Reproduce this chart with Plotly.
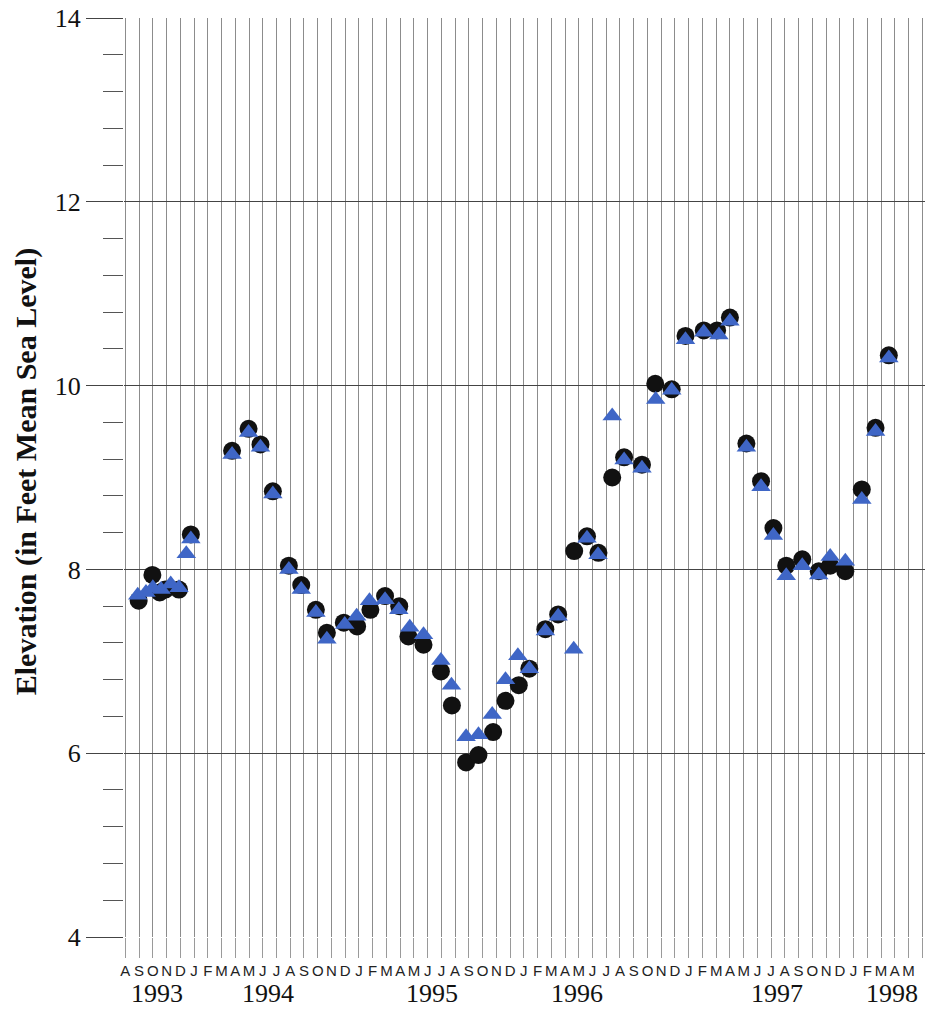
import datetime as dt
import plotly.graph_objects as go

# Sampling dates and water-surface elevations (ft MSL)
circle_dates = [
    "1993-08-30", "1993-09-30", "1993-10-16", "1993-10-28", "1993-11-28", "1993-12-24",
    "1994-03-24", "1994-04-30", "1994-05-26", "1994-06-23", "1994-07-28", "1994-08-25",
    "1994-09-27", "1994-10-21", "1994-11-28", "1994-12-27", "1995-01-26", "1995-02-28",
    "1995-03-29", "1995-04-19", "1995-05-22", "1995-06-30", "1995-07-24", "1995-08-25",
    "1995-09-22", "1995-10-24", "1995-11-21", "1995-12-20", "1996-01-13", "1996-02-18",
    "1996-03-16", "1996-04-21", "1996-05-19", "1996-06-14", "1996-07-14", "1996-08-10",
    "1996-09-19", "1996-10-18", "1996-11-24", "1996-12-24", "1997-02-04", "1997-03-03",
    "1997-04-01", "1997-05-07", "1997-06-09", "1997-07-06", "1997-08-04", "1997-09-09",
    "1997-10-15", "1997-11-10", "1997-12-13", "1998-01-19", "1998-02-19", "1998-03-18",
]
circle_elev = [
    7.66, 7.94, 7.75, 7.78, 7.78, 8.38,
    9.29, 9.53, 9.36, 8.85, 8.04, 7.83,
    7.56, 7.31, 7.42, 7.38, 7.56, 7.71,
    7.60, 7.27, 7.18, 6.89, 6.52, 5.90,
    5.98, 6.23, 6.57, 6.74, 6.92, 7.35,
    7.51, 8.20, 8.36, 8.18, 9.00, 9.22,
    9.14, 10.02, 9.96, 10.54, 10.60, 10.60,
    10.74, 9.37, 8.96, 8.45, 8.04, 8.11,
    7.98, 8.04, 7.98, 8.87, 9.54, 10.33,
]

triangle_dates = [
    "1993-08-28", "1993-09-16", "1993-10-01", "1993-10-19", "1993-11-10", "1993-11-28",
    "1993-12-14", "1993-12-24", "1994-03-24", "1994-04-30", "1994-05-26", "1994-06-23",
    "1994-07-28", "1994-08-25", "1994-09-27", "1994-10-21", "1994-11-30", "1994-12-26",
    "1995-01-24", "1995-02-28", "1995-03-28", "1995-04-22", "1995-05-22", "1995-06-30",
    "1995-07-23", "1995-08-25", "1995-09-22", "1995-10-22", "1995-11-21", "1995-12-18",
    "1996-01-13", "1996-02-18", "1996-03-16", "1996-04-20", "1996-05-19", "1996-06-13",
    "1996-07-14", "1996-08-10", "1996-09-19", "1996-10-19", "1996-11-24", "1996-12-24",
    "1997-02-04", "1997-03-07", "1997-04-01", "1997-05-07", "1997-06-09", "1997-07-06",
    "1997-08-04", "1997-09-09", "1997-10-15", "1997-11-10", "1997-12-13", "1998-01-19",
    "1998-02-19", "1998-03-18",
]
triangle_elev = [
    7.72, 7.75, 7.80, 7.78, 7.84, 7.80,
    8.17, 8.33, 9.25, 9.49, 9.33, 8.82,
    8.00, 7.78, 7.53, 7.24, 7.40, 7.49,
    7.66, 7.67, 7.56, 7.37, 7.29, 7.01,
    6.74, 6.18, 6.20, 6.42, 6.80, 7.06,
    6.92, 7.33, 7.49, 7.13, 8.34, 8.16,
    9.67, 9.19, 9.10, 9.85, 9.95, 10.50,
    10.58, 10.55, 10.70, 9.33, 8.90, 8.37,
    7.93, 8.04, 7.94, 8.14, 8.09, 8.76,
    9.50, 10.30,
]

month_letters = list("ASONDJFMAMJJASONDJFMAMJJASONDJFMAMJJASONDJFMAMJJASONDJFMAM")
year_labels = ["1993", "1994", "1995", "1996", "1997", "1998"]
year_label_pos = [2.3, 10.4, 22.3, 32.9, 47.4, 55.8]

START = (1993, 8)


def month_index(s):
    d = dt.date.fromisoformat(s)
    return (d.year - START[0]) * 12 + (d.month - START[1]) + (d.day - 1) / 30.0


cx = [month_index(s) for s in circle_dates]
tx = [month_index(s) for s in triangle_dates]

fig = go.Figure()
fig.add_trace(go.Scatter(
    x=cx, y=circle_elev, mode="markers",
    marker=dict(symbol="circle", size=18, color="#111111", line=dict(width=0)),
    showlegend=False, hoverinfo="skip",
))
fig.add_trace(go.Scatter(
    x=tx, y=triangle_elev, mode="markers",
    marker=dict(symbol="triangle-up", size=17, color="#3f66c6", line=dict(width=0)),
    showlegend=False, hoverinfo="skip",
))

for label, pos in zip(year_labels, year_label_pos):
    fig.add_annotation(
        x=pos, xref="x", y=-0.062, yref="paper", text=label, showarrow=False,
        xanchor="center", yanchor="middle",
        font=dict(family="Liberation Serif", size=26, color="#111111"),
    )

fig.add_annotation(
    x=-0.122, xref="paper", y=0.506, yref="paper",
    text="<b>Elevation (in Feet Mean Sea Level)</b>", textangle=-90,
    showarrow=False, xanchor="center", yanchor="middle",
    font=dict(family="Liberation Serif", size=30, color="#111111"),
)

fig.update_layout(
    width=927, height=1013,
    margin=dict(l=124, r=2, t=18, b=76),
    paper_bgcolor="white", plot_bgcolor="white",
    xaxis=dict(
        range=[-0.1, 58.2],
        tickmode="array",
        tickvals=list(range(len(month_letters))) + [len(month_letters)],
        ticktext=month_letters + [""],
        showgrid=True, gridcolor="#8c8c8c", gridwidth=1.2,
        ticks="outside", ticklen=20, tickcolor="#9a9a9a", tickwidth=1,
        tickfont=dict(family="Liberation Sans", size=15, color="#222222"),
        zeroline=False, showline=False,
    ),
    yaxis=dict(
        range=[4, 14],
        tickmode="linear", tick0=4, dtick=2,
        showgrid=True, gridcolor="#444444", gridwidth=1.4,
        ticks="outside", ticklen=37, tickcolor="#444444", tickwidth=1.4,
        tickfont=dict(family="Liberation Serif", size=26, color="#111111"),
        minor=dict(dtick=0.4, tick0=4, ticks="outside", ticklen=20,
                   tickcolor="#555555", tickwidth=1.2, showgrid=False),
        zeroline=False, showline=False,
    ),
)

fig.write_html("out.html")
